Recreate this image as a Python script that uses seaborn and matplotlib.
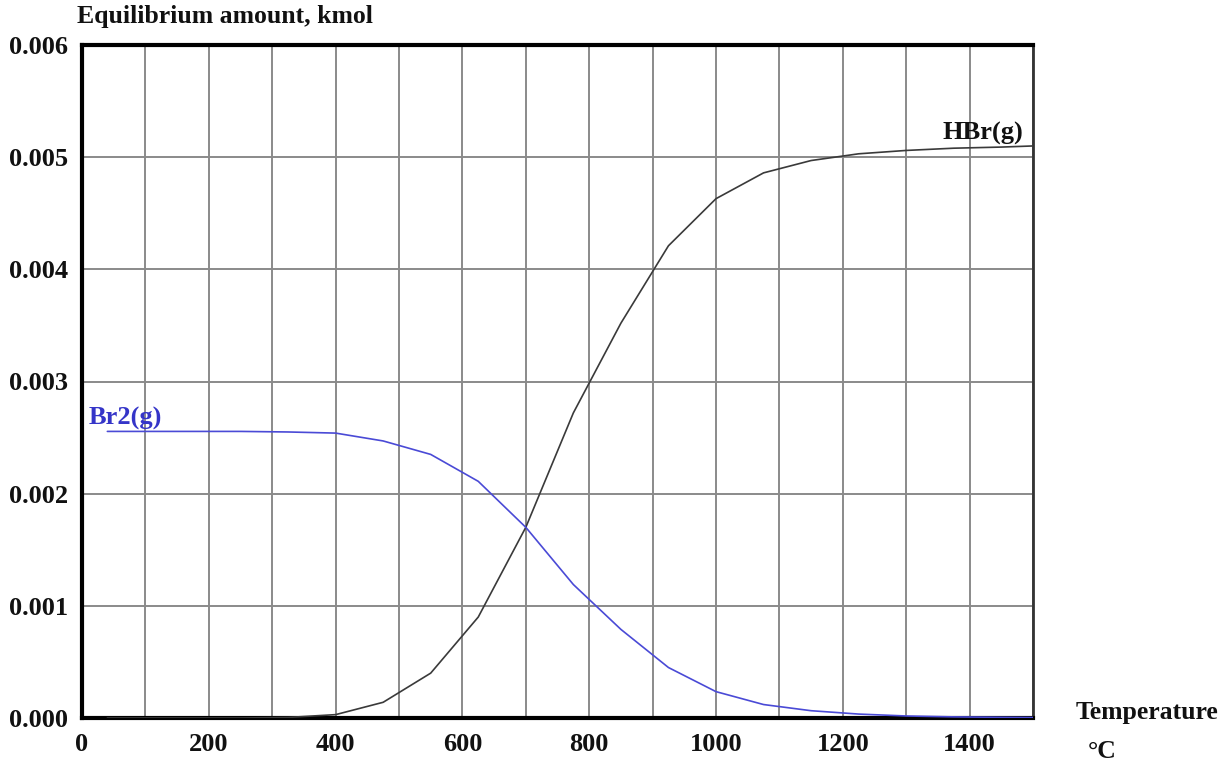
import matplotlib
matplotlib.use("Agg")
import matplotlib.pyplot as plt
import seaborn as sns
import pandas as pd

# Temperature (°C) and equilibrium amounts (kmol)
temperature = [40, 100, 175, 250, 325, 400, 475, 550, 625, 700, 775, 850, 925,
               1000, 1075, 1150, 1225, 1300, 1375, 1450, 1500]
hbr = [0.0, 0.0, 0.0, 0.0, 0.000005, 0.00003, 0.00014, 0.00040, 0.00090, 0.00170,
       0.00272, 0.00352, 0.00421, 0.00463, 0.00486, 0.00497, 0.00503, 0.00506,
       0.00508, 0.00509, 0.00510]
br2 = [0.002555, 0.002555, 0.002555, 0.002555, 0.00255, 0.00254, 0.00247, 0.00235,
       0.00211, 0.00170, 0.00119, 0.00079, 0.00045, 0.000235, 0.00012, 0.000065,
       0.000035, 0.000018, 0.00001, 0.000006, 0.000004]
series_names = ["HBr(g)", "Br2(g)"]
x_ticks = [0, 200, 400, 600, 800, 1000, 1200, 1400]
y_ticks = [0.000, 0.001, 0.002, 0.003, 0.004, 0.005, 0.006]

sns.set_theme(style="white")
plt.rcParams["font.family"] = ["Liberation Serif", "DejaVu Serif"]
plt.rcParams["font.weight"] = "bold"

df = pd.concat([
    pd.DataFrame({"T": temperature, "amount": hbr, "species": series_names[0]}),
    pd.DataFrame({"T": temperature, "amount": br2, "species": series_names[1]}),
])

fig = plt.figure(figsize=(12.31, 7.67), dpi=100)
ax = fig.add_axes([82 / 1231, 49 / 767, 951 / 1231, 673 / 767])

colors = {"HBr(g)": "#3a3a3a", "Br2(g)": "#4a4ad6"}
sns.lineplot(data=df, x="T", y="amount", hue="species", palette=colors,
             linewidth=1.2, ax=ax, legend=False, zorder=3)

ax.set_xlim(0, 1500)
ax.set_ylim(0, 0.006)
ax.set_xticks(range(0, 1501, 100), minor=False)
ax.set_xticklabels([str(v) if v in x_ticks else "" for v in range(0, 1501, 100)])
ax.set_yticks(y_ticks)
ax.set_yticklabels([f"{v:.3f}" for v in y_ticks])
ax.tick_params(axis="both", length=0, labelsize=19, colors="#111111")
ax.tick_params(axis="x", pad=11)
ax.tick_params(axis="y", pad=10)
for lab in ax.get_xticklabels() + ax.get_yticklabels():
    lab.set_fontweight("bold")

ax.grid(True, color="#8a8a8a", linewidth=1.4)
ax.set_axisbelow(True)
for side in ["left", "bottom", "top"]:
    ax.spines[side].set_color("#000000")
    ax.spines[side].set_linewidth(3)
ax.spines["right"].set_color("#333333")
ax.spines["right"].set_linewidth(2)
ax.set_xlabel("")
ax.set_ylabel("")

ax.text(1421, 0.00511, "HBr(g)", fontsize=19, fontweight="bold", color="#111111",
        ha="center", va="bottom")
ax.text(68, 0.00257, "Br2(g)", fontsize=19, fontweight="bold", color="#3535c8",
        ha="center", va="bottom")

fig.text(77 / 1231, 1 - 17 / 767, "Equilibrium amount, kmol", fontsize=18.5,
         fontweight="bold", ha="left", va="center", color="#111111")
fig.text(1147 / 1231, 1 - 713 / 767, "Temperature", fontsize=18.5, fontweight="bold",
         ha="center", va="center", color="#111111")
fig.text(1102 / 1231, 1 - 751 / 767, "°C", fontsize=18.5, fontweight="bold",
         ha="center", va="center", color="#111111")

fig.savefig("out.png", dpi=100, facecolor="white")
